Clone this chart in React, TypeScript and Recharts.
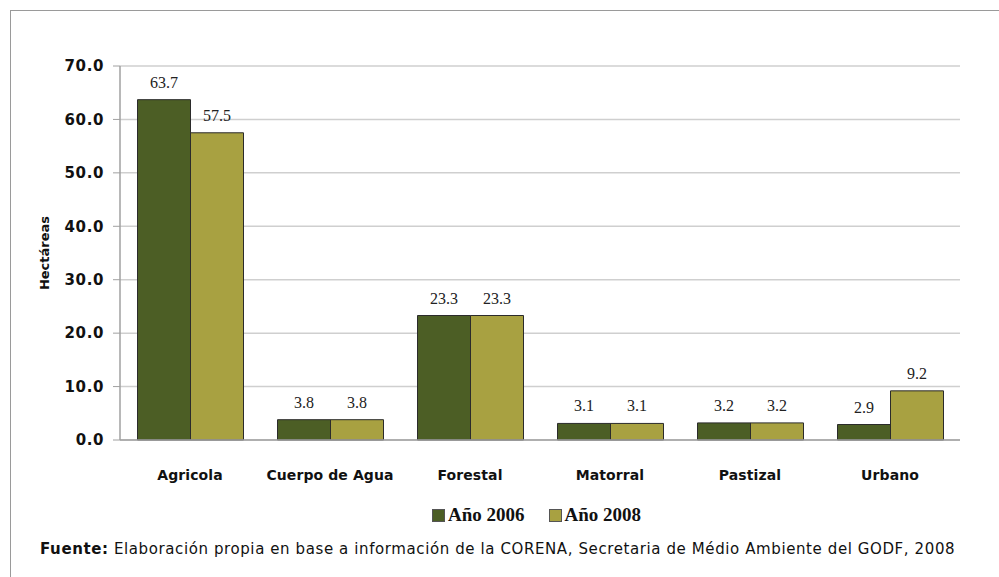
import { BarChart, Bar, XAxis, YAxis, CartesianGrid, Legend, LabelList } from 'recharts';

const categories = ['Agricola', 'Cuerpo de Agua', 'Forestal', 'Matorral', 'Pastizal', 'Urbano'];
const year2006 = [63.7, 3.8, 23.3, 3.1, 3.2, 2.9];
const year2008 = [57.5, 3.8, 23.3, 3.1, 3.2, 9.2];
const yTicks = [0, 10, 20, 30, 40, 50, 60, 70];

const data = categories.map((name, i) => ({ name, a2006: year2006[i], a2008: year2008[i] }));

const DARK = '#4c5e25';
const OLIVE = '#a8a141';

const renderLegend = (props: any) => {
  const { payload } = props;
  return (
    <div style={{ display: 'flex', alignItems: 'center', gap: 24 }}>
      {(payload || []).map((p: any) => (
        <div key={p.value} style={{ display: 'flex', alignItems: 'center' }}>
          <span
            style={{
              display: 'inline-block',
              width: 11,
              height: 11,
              background: p.color,
              border: '1px solid #555',
              marginRight: 3,
            }}
          />
          <span
            style={{
              fontFamily: '"Liberation Serif", serif',
              fontWeight: 'bold',
              fontSize: 19,
              color: '#111',
            }}
          >
            {p.value}
          </span>
        </div>
      ))}
    </div>
  );
};

export default function App() {
  return (
    <div style={{ position: 'absolute', left: 0, top: 0, width: 999, height: 577, background: '#fff', overflow: 'hidden' }}>
      {/* marco */}
      <div
        style={{
          position: 'absolute',
          left: 10,
          top: 10,
          width: 1000,
          height: 600,
          borderLeft: '1px solid #9a9a9a',
          borderTop: '1px solid #9a9a9a',
        }}
      />
      <BarChart
        width={999}
        height={577}
        data={data}
        margin={{ top: 66, right: 39, bottom: 85, left: 10 }}
        barCategoryGap="12.5%"
        barGap={0}
      >
        <CartesianGrid vertical={false} stroke="#cfcfcf" strokeWidth={1.5} />
        <XAxis
          dataKey="name"
          tickLine={false}
          axisLine={{ stroke: '#a0a0a0', strokeWidth: 1.5 }}
          tickMargin={24}
          height={30}
          interval={0}
          tick={{ fontFamily: '"DejaVu Sans", sans-serif', fontWeight: 'bold', fontSize: 14, fill: '#111', letterSpacing: 0.1 }}
        />
        <YAxis
          width={110}
          domain={[0, 70]}
          ticks={yTicks}
          tickSize={7}
          tickMargin={9}
          tickFormatter={(v: number) => v.toFixed(1)}
          axisLine={{ stroke: '#a0a0a0', strokeWidth: 1.5 }}
          tickLine={{ stroke: '#a0a0a0' }}
          tick={{ fontFamily: '"DejaVu Sans", sans-serif', fontWeight: 'bold', fontSize: 15, fill: '#111', letterSpacing: 0.6 }}
          label={{
            value: 'Hectáreas',
            angle: -90,
            position: 'insideLeft',
            offset: 34,
            style: { fontFamily: '"DejaVu Sans", sans-serif', fontWeight: 'bold', fontSize: 13, fill: '#111', textAnchor: 'middle' },
          }}
        />
        <Legend
          verticalAlign="bottom"
          content={renderLegend}
          wrapperStyle={{ top: 504, left: 432, width: 'auto', bottom: 'auto' }}
        />
        <Bar dataKey="a2006" name="Año 2006" fill={DARK} stroke="#2b2b2b" strokeWidth={1} isAnimationActive={false}>
          <LabelList
            dataKey="a2006"
            position="top"
            offset={12}
            formatter={(v: any) => Number(v).toFixed(1)}
            style={{ fontFamily: '"Liberation Serif", serif', fontSize: 16, fill: '#222' }}
          />
        </Bar>
        <Bar dataKey="a2008" name="Año 2008" fill={OLIVE} stroke="#2b2b2b" strokeWidth={1} isAnimationActive={false}>
          <LabelList
            dataKey="a2008"
            position="top"
            offset={12}
            formatter={(v: any) => Number(v).toFixed(1)}
            style={{ fontFamily: '"Liberation Serif", serif', fontSize: 16, fill: '#222' }}
          />
        </Bar>
      </BarChart>
      <div
        style={{
          position: 'absolute',
          left: 40,
          top: 540,
          fontFamily: '"DejaVu Sans", sans-serif',
          fontSize: 15,
          color: '#111',
          whiteSpace: 'nowrap',
          letterSpacing: 0.6,
        }}
      >
        <b>Fuente:</b> Elaboración propia en base a información de la CORENA, Secretaria de Médio Ambiente del GODF, 2008
      </div>
    </div>
  );
}
